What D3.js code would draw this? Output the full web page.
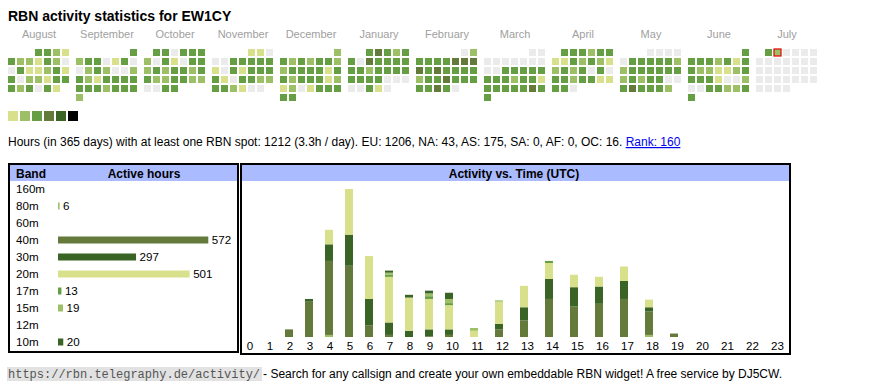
<!DOCTYPE html>
<html>
<head>
<meta charset="utf-8">
<script src="https://cdn.jsdelivr.net/npm/d3@7"></script>
<style>
  body { margin: 0; background: #fff; }
  svg { display: block; font-family: Arial, "Liberation Sans", sans-serif; }
</style>
</head>
<body>
<svg id="chart" width="870" height="390"></svg>
<script>
var callsign = 'EW1CY'

// calendar: one string per month, one digit (activity level 0-6) per day
var monthNames = ['August', 'September', 'October', 'November', 'December', 'January',
                  'February', 'March', 'April', 'May', 'June', 'July']
var monthYears = [2024, 2024, 2024, 2024, 2024, 2025, 2025, 2025, 2025, 2025, 2025, 2025]
var monthNums  = [7, 8, 9, 10, 11, 0, 1, 2, 3, 4, 5, 6]
var dayLevels = [
  '3321322132003112313022133323031',
  '323301300232002321333333323332',
  '3303332031033232332332233220033',
  '110003333310313333103322332100',
  '2323233223333133233312120133333',
  '3432330433333323333333300000310',
  '0233334444343333233433333430',
  '0000000000033333333233133333433',
  '333233113232123230303323311330',
  '0000033333223333332323300343332',
  '333323133221123333100200332233',
  '3200000000000000000000000000000'
]
var todayMonth = 11
var todayDay = 2
var levelColors = ['#ebebeb', '#d9e08b', '#9dc066', '#669e44', '#637a3a', '#3a6426', '#000000']

// summary line
var totalHours = 1212
var hoursPerDay = '3.3'
var continents = ['EU', 'NA', 'AS', 'SA', 'AF', 'OC']
var continentHours = [1206, 43, 175, 0, 0, 16]
var rank = 160

// bands and hourly activity (hours per UTC hour, per band)
var bands = ['160m', '80m', '60m', '40m', '30m', '20m', '17m', '15m', '12m', '10m']
var bandColors = ['#3a6426', '#9dc066', '#669e44', '#637a3a', '#3a6426', '#d9e08b', '#669e44', '#9dc066', '#637a3a', '#3a6426']
var hours = [0, 1, 2, 3, 4, 5, 6, 7, 8, 9, 10, 11, 12, 13, 14, 15, 16, 17, 18, 19, 20, 21, 22, 23]
var h160 = [0, 0, 0, 0, 0, 0, 0, 0, 0, 0, 0, 0, 0, 0, 0, 0, 0, 0, 0, 0, 0, 0, 0, 0]
var h80  = [0, 0, 0, 0, 3, 0, 0, 0, 0, 0, 0, 0, 0, 0, 0, 0, 0, 0, 3, 0, 0, 0, 0, 0]
var h60  = [0, 0, 0, 0, 0, 0, 0, 0, 0, 0, 0, 0, 0, 0, 0, 0, 0, 0, 0, 0, 0, 0, 0, 0]
var h40  = [0, 0, 11, 51, 107, 103, 17, 3, 0, 1, 3, 0, 11, 24, 55, 44, 48, 55, 34, 5, 0, 0, 0, 0]
var h30  = [0, 0, 0, 4, 24, 45, 38, 18, 9, 10, 8, 0, 8, 19, 29, 28, 25, 26, 6, 0, 0, 0, 0, 0]
var h20  = [0, 0, 0, 0, 21, 66, 62, 66, 48, 44, 35, 9, 32, 31, 23, 18, 14, 21, 11, 0, 0, 0, 0, 0]
var h17  = [0, 0, 0, 0, 0, 0, 0, 3, 0, 4, 3, 0, 0, 0, 3, 0, 0, 0, 0, 0, 0, 0, 0, 0]
var h15  = [0, 0, 0, 0, 0, 0, 0, 3, 0, 4, 6, 4, 2, 0, 0, 0, 0, 0, 0, 0, 0, 0, 0, 0]
var h12  = [0, 0, 0, 0, 0, 0, 0, 0, 0, 0, 0, 0, 0, 0, 0, 0, 0, 0, 0, 0, 0, 0, 0, 0]
var h10  = [0, 0, 0, 0, 0, 0, 0, 3, 4, 4, 9, 0, 0, 0, 0, 0, 0, 0, 0, 0, 0, 0, 0, 0]
var hourly = [h160, h80, h60, h40, h30, h20, h17, h15, h12, h10]

var svg = d3.select('#chart')
var color = d3.scaleOrdinal().domain(bands).range(bandColors)

svg.append('text')
   .attr('x', 8).attr('y', 21)
   .attr('font-size', '14px').attr('font-weight', 'bold')
   .text('RBN activity statistics for ' + callsign)

// ---- calendar ----
var monthX = d3.scaleLinear().domain([0, 12]).range([8, 8 + 68 * 12])
var colX = d3.scaleLinear().domain([0, 7]).range([0, 63])
var rowY = d3.scaleLinear().domain([0, 6]).range([49, 103])

svg.selectAll('text.month')
   .data(monthNames)
   .enter().append('text')
   .attr('class', 'month')
   .attr('x', function(d, i){ return monthX(i) + 31 })
   .attr('y', 38)
   .attr('text-anchor', 'middle')
   .attr('font-size', '11px')
   .attr('fill', '#a0a0a0')
   .text(function(d){ return d })

var cells = []
dayLevels.forEach(function(str, m){
  var first = new Date(monthYears[m], monthNums[m], 1)
  var offset = (first.getDay() + 6) % 7
  str.split('').forEach(function(ch, d){
    var pos = offset + d
    cells.push({month: m, day: d + 1, col: pos % 7, row: Math.floor(pos / 7), level: +ch})
  })
})

svg.selectAll('rect.day')
   .data(cells)
   .enter().append('rect')
   .attr('class', 'day')
   .attr('x', function(d){ return monthX(d.month) + colX(d.col) })
   .attr('y', function(d){ return rowY(d.row) })
   .attr('width', 7).attr('height', 7)
   .attr('fill', function(d){ return levelColors[d.level] })
   .attr('stroke', function(d){ return (d.month == todayMonth && d.day == todayDay) ? '#e00000' : 'none' })
   .attr('stroke-width', 1.2)

svg.selectAll('rect.legend')
   .data(levelColors.slice(1))
   .enter().append('rect')
   .attr('class', 'legend')
   .attr('x', function(d, i){ return 8 + i * 12 })
   .attr('y', 111)
   .attr('width', 10).attr('height', 10)
   .attr('fill', function(d){ return d })

// ---- summary line ----
var info = svg.append('text').attr('x', 8).attr('y', 146).attr('font-size', '12px')
var parts = continents.map(function(c, i){ return c + ': ' + continentHours[i] }).join(', ')
info.append('tspan')
    .text('Hours (in 365 days) with at least one RBN spot: ' + totalHours + ' (' + hoursPerDay + 'h / day). ' + parts + '. ')
info.append('tspan')
    .attr('fill', '#0000ee')
    .attr('text-decoration', 'underline')
    .text('Rank: ' + rank)

// ---- band table ----
var bandTotals = hourly.map(function(a){ return d3.sum(a) })
var bx = d3.scaleLinear().domain([0, d3.max(bandTotals)]).range([58, 208.3])
var by = d3.scalePoint().domain(bands).range([189, 342])

svg.append('rect').attr('x', 10).attr('y', 165).attr('width', 227).attr('height', 16).attr('fill', '#aabbff')
svg.append('rect').attr('x', 9).attr('y', 164).attr('width', 229).attr('height', 188)
   .attr('fill', 'none').attr('stroke', '#000').attr('stroke-width', 2)
svg.append('text').attr('x', 16).attr('y', 177.5).attr('font-size', '12px').attr('font-weight', 'bold').text('Band')
svg.append('text').attr('x', 144).attr('y', 177.5).attr('font-size', '12px').attr('font-weight', 'bold')
   .attr('text-anchor', 'middle').text('Active hours')

svg.selectAll('text.band')
   .data(bands)
   .enter().append('text')
   .attr('class', 'band')
   .attr('x', 16)
   .attr('y', function(d){ return by(d) })
   .attr('dy', '0.35em')
   .attr('font-size', '11.6px')
   .text(function(d){ return d })

var bandRows = bands.map(function(b, i){ return {band: b, total: bandTotals[i]} })
                    .filter(function(d){ return d.total > 0 })

svg.selectAll('rect.bandbar')
   .data(bandRows)
   .enter().append('rect')
   .attr('class', 'bandbar')
   .attr('x', bx(0))
   .attr('y', function(d){ return by(d.band) - 3.5 })
   .attr('width', function(d){ return bx(d.total) - bx(0) })
   .attr('height', 7)
   .attr('fill', function(d){ return color(d.band) })

svg.selectAll('text.bandval')
   .data(bandRows)
   .enter().append('text')
   .attr('class', 'bandval')
   .attr('x', function(d){ return bx(d.total) + 3.5 })
   .attr('y', function(d){ return by(d.band) })
   .attr('dy', '0.35em')
   .attr('font-size', '11.6px')
   .text(function(d){ return d.total })

// ---- activity vs time ----
svg.append('rect').attr('x', 242).attr('y', 165).attr('width', 547).attr('height', 16).attr('fill', '#aabbff')
svg.append('rect').attr('x', 241).attr('y', 164).attr('width', 549).attr('height', 190)
   .attr('fill', 'none').attr('stroke', '#000').attr('stroke-width', 2)
svg.append('text').attr('x', 514).attr('y', 177.5).attr('font-size', '12px').attr('font-weight', 'bold')
   .attr('text-anchor', 'middle').text('Activity vs. Time (UTC)')

// each hour cell is as wide as its label (digits + padding)
var units = hours.map(function(h){ return String(h).length + 3 })
var ends = d3.cumsum(units)
var ux = d3.scaleLinear().domain([0, d3.sum(units)]).range([239, 239 + 5 * d3.sum(units)])

var rows = hours.map(function(h, i){
  var r = {hour: h, start: ends[i] - units[i], unit: units[i]}
  bands.forEach(function(b, j){ r[b] = hourly[j][i] })
  return r
})
var series = d3.stack().keys(bands)(rows)
var totals = rows.map(function(r){ return d3.sum(bands, function(b){ return r[b] }) })
var hy = d3.scaleLinear().domain([0, d3.max(totals)]).range([337, 189])

svg.selectAll('g.layer')
   .data(series)
   .enter().append('g')
   .attr('class', 'layer')
   .attr('fill', function(d){ return color(d.key) })
   .selectAll('rect')
   .data(function(d){ return d.filter(function(p){ return p[1] > p[0] }) })
   .enter().append('rect')
   .attr('x', function(d){ return ux(d.data.start + 1.2) })
   .attr('width', function(d){ return ux(1.6) - ux(0) })
   .attr('y', function(d){ return hy(d[1]) })
   .attr('height', function(d){ return hy(d[0]) - hy(d[1]) })

svg.selectAll('text.hour')
   .data(rows)
   .enter().append('text')
   .attr('class', 'hour')
   .attr('x', function(d){ return ux(d.start + d.unit / 2) + 1 })
   .attr('y', 350)
   .attr('text-anchor', 'middle')
   .attr('font-size', '11.6px')
   .text(function(d){ return d.hour })

// ---- footer ----
var url = svg.append('text')
   .attr('x', 8).attr('y', 378)
   .attr('font-family', '"Liberation Mono", "DejaVu Sans Mono", monospace')
   .attr('font-size', '12px')
   .attr('fill', '#555')
   .text('https://rbn.telegraphy.de/activity/')
var urlWidth = url.node().getComputedTextLength()
svg.insert('rect', 'text:last-child')
   .attr('x', 7).attr('y', 367).attr('width', urlWidth + 3).attr('height', 14).attr('fill', '#e2e2e2')
svg.append('text')
   .attr('x', 8 + urlWidth + 3).attr('y', 378)
   .attr('font-size', '12px')
   .text(' - Search for any callsign and create your own embeddable RBN widget! A free service by DJ5CW.')
</script>
</body>
</html>
